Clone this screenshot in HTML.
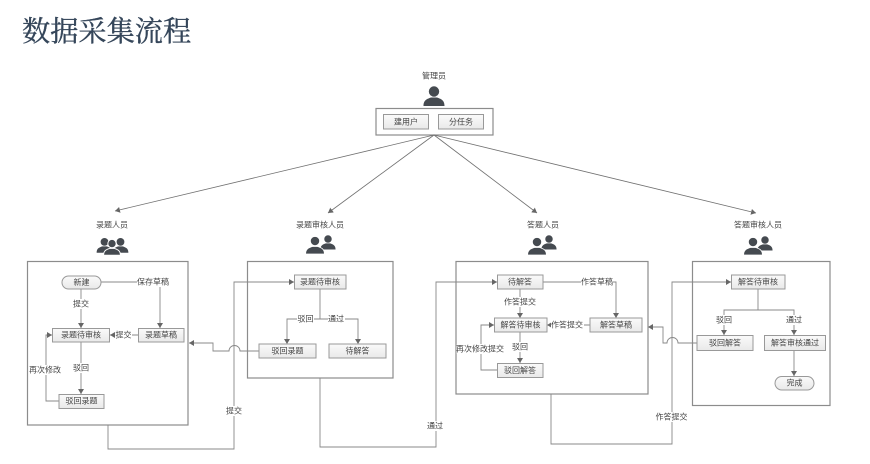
<!DOCTYPE html>
<html lang="zh">
<head>
<meta charset="utf-8">
<style>
html,body{margin:0;padding:0;background:#fff;width:870px;height:464px;overflow:hidden}
svg{display:block;position:absolute;left:0;top:0;filter:blur(.35px)}
.t{font-family:"Liberation Sans","Noto Sans CJK SC",sans-serif;font-size:8px;fill:#444;text-anchor:middle;dominant-baseline:central}
.h{font-family:"Liberation Serif","Noto Serif CJK SC",serif;font-size:28.200px;fill:#35465a;stroke:#35465a;stroke-width:.35}
.p{fill:#fff;stroke:#8c8c8c;stroke-width:1.2}
.n{fill:url(#g);stroke:#999;stroke-width:1}
.l{fill:none;stroke:#888;stroke-width:.9}
.d{fill:none;stroke:#707070;stroke-width:.8}
.a{fill:#666}
.bg{fill:#fff}
.u{fill:#454a50}
</style>
</head>
<body>
<svg width="870" height="464" viewBox="0 0 870 464" xmlns="http://www.w3.org/2000/svg">
<defs>
<linearGradient id="g" x1="0" y1="0" x2="0" y2="1"><stop offset="0" stop-color="#fafafa"/><stop offset="1" stop-color="#e9e9e9"/></linearGradient>
<marker id="m" markerWidth="6" markerHeight="6" refX="5" refY="3" orient="auto" markerUnits="userSpaceOnUse"><path d="M0 0L5 3L0 6Z" fill="#666"/></marker>
<g id="pers"><circle cx="0" cy="-5.5" r="5.2"/><path d="M-10.500 9C-10.500 3 -7 2 -3 .5L3 .5C7 2 10.500 3 10.500 9Z"/></g>
</defs>

<text class="h" x="22" y="41">数据采集流程</text>

<!-- top -->
<text class="t" x="434" y="76">管理员</text>
<use href="#pers" class="u" x="434" y="97"/>
<rect class="p" x="376" y="108.500" width="117" height="26.500"/>
<rect class="n" x="383.500" y="114.500" width="45" height="14.500"/>
<rect class="n" x="438.500" y="114.500" width="45" height="14.500"/>
<text class="t" x="406" y="122">建用户</text>
<text class="t" x="461" y="122">分任务</text>

<g class="d">
<path d="M434 135L115 211" marker-end="url(#m)"/>
<path d="M434 135L328 213" marker-end="url(#m)"/>
<path d="M434 135L537 213" marker-end="url(#m)"/>
<path d="M434 135L756 213" marker-end="url(#m)"/>
</g>

<!-- role labels and icons -->
<text class="t" x="112" y="225">录题人员</text>
<text class="t" x="320" y="225">录题审核人员</text>
<text class="t" x="543" y="225">答题人员</text>
<text class="t" x="758" y="225">答题审核人员</text>

<g class="u">
<use href="#pers" transform="translate(104.500,246) scale(.75)"/>
<use href="#pers" transform="translate(120.500,246) scale(.75)"/>
<g stroke="#fff" stroke-width="1.200"><use href="#pers" transform="translate(112,248) scale(.8)"/></g>
<use href="#pers" transform="translate(328,243) scale(.72)"/>
<g stroke="#fff" stroke-width="1"><use href="#pers" transform="translate(315,246) scale(.9)"/></g>
<use href="#pers" transform="translate(549,243) scale(.72)"/>
<g stroke="#fff" stroke-width="1"><use href="#pers" transform="translate(537,247) scale(.9)"/></g>
<use href="#pers" transform="translate(765,244) scale(.72)"/>
<g stroke="#fff" stroke-width="1"><use href="#pers" transform="translate(753,247) scale(.9)"/></g>
</g>

<!-- panels -->
<rect class="p" x="27.500" y="261.500" width="160.500" height="163.500"/>
<rect class="p" x="247.500" y="261.500" width="145.500" height="116.500"/>
<rect class="p" x="456" y="261.500" width="192" height="132.500"/>
<rect class="p" x="692.500" y="261.500" width="137.500" height="144"/>

<!-- cross-panel connectors -->
<path class="l" d="M108 425V449H234V282H294" marker-end="url(#m)"/>
<path class="l" d="M259 351H240A5 5 0 0 0 229 351H213V343H189" marker-end="url(#m)"/>
<path class="l" d="M320 378V447H436V282H497" marker-end="url(#m)"/>
<path class="l" d="M551 394V444H672V282H731" marker-end="url(#m)"/>
<path class="l" d="M697 343H678A5 5 0 0 0 667 343H663V327H648" marker-end="url(#m)"/>

<!-- panel 1 connectors -->
<path class="l" d="M81 289V328" marker-end="url(#m)"/>
<path class="l" d="M101 282H160V328" marker-end="url(#m)"/>
<path class="l" d="M138 335H110" marker-end="url(#m)"/>
<path class="l" d="M81 342V394" marker-end="url(#m)"/>
<path class="l" d="M59 401H46V335H52" marker-end="url(#m)"/>

<!-- panel 2 connectors -->
<path class="l" d="M320 289V319"/>
<path class="l" d="M320 319H287V344" marker-end="url(#m)"/>
<path class="l" d="M320 319H358V344" marker-end="url(#m)"/>

<!-- panel 3 connectors -->
<path class="l" d="M543 282H616V318" marker-end="url(#m)"/>
<path class="l" d="M520 289V318" marker-end="url(#m)"/>
<path class="l" d="M590 325H547" marker-end="url(#m)"/>
<path class="l" d="M520 332V363" marker-end="url(#m)"/>
<path class="l" d="M497 370H481V325H494" marker-end="url(#m)"/>

<!-- panel 4 connectors -->
<path class="l" d="M758 289V310"/>
<path class="l" d="M724 335V310H794V335" fill="none"/>
<path class="a" d="M721 330L727 330L724 335Z"/>
<path class="a" d="M791 330L797 330L794 335Z"/>
<path class="l" d="M794 350V376" marker-end="url(#m)"/>

<!-- nodes -->
<rect class="n" x="62" y="276" width="39" height="13" rx="6.500"/>
<rect class="n" x="52.500" y="328.500" width="57" height="13.500"/>
<rect class="n" x="138.500" y="328.500" width="45.500" height="13.500"/>
<rect class="n" x="59" y="394.500" width="45" height="14"/>
<rect class="n" x="294.500" y="275" width="51.500" height="14"/>
<rect class="n" x="259" y="344" width="57" height="14"/>
<rect class="n" x="329" y="344" width="57" height="14"/>
<rect class="n" x="497.500" y="275" width="45.500" height="14"/>
<rect class="n" x="494.500" y="318" width="52.500" height="14"/>
<rect class="n" x="590" y="318" width="52" height="14"/>
<rect class="n" x="497.500" y="363.500" width="45.500" height="14"/>
<rect class="n" x="731.500" y="275" width="53.500" height="14"/>
<rect class="n" x="697" y="335.500" width="56" height="15"/>
<rect class="n" x="764.500" y="335.500" width="61" height="15"/>
<rect class="n" x="775" y="376.500" width="39" height="13.500" rx="6.700"/>

<!-- node text -->
<text class="t" x="81.500" y="282.500">新建</text>
<text class="t" x="81" y="335">录题待审核</text>
<text class="t" x="161" y="335">录题草稿</text>
<text class="t" x="81.500" y="401">驳回录题</text>
<text class="t" x="320" y="282">录题待审核</text>
<text class="t" x="287.500" y="351">驳回录题</text>
<text class="t" x="357.500" y="351">待解答</text>
<text class="t" x="520" y="282">待解答</text>
<text class="t" x="520.500" y="325">解答待审核</text>
<text class="t" x="616" y="325">解答草稿</text>
<text class="t" x="520" y="370.500">驳回解答</text>
<text class="t" x="758" y="282">解答待审核</text>
<text class="t" x="725" y="343">驳回解答</text>
<text class="t" x="795" y="343">解答审核通过</text>
<text class="t" x="794.500" y="383">完成</text>

<!-- connector labels -->
<rect class="bg" x="72" y="299" width="18" height="10"/><text class="t" x="81" y="304">提交</text>
<rect class="bg" x="137" y="277" width="32" height="10"/><text class="t" x="153" y="282">保存草稿</text>
<rect class="bg" x="115" y="330" width="17" height="10"/><text class="t" x="123.500" y="335">提交</text>
<rect class="bg" x="72" y="363" width="18" height="10"/><text class="t" x="81" y="368">驳回</text>
<rect class="bg" x="29" y="365" width="33" height="10"/><text class="t" x="45" y="370">再次修改</text>
<rect class="bg" x="225" y="406" width="18" height="10"/><text class="t" x="234" y="411">提交</text>
<rect class="bg" x="297" y="314" width="17" height="10"/><text class="t" x="305.500" y="319">驳回</text>
<rect class="bg" x="328" y="314" width="17" height="10"/><text class="t" x="336" y="319">通过</text>
<rect class="bg" x="426" y="421" width="18" height="10"/><text class="t" x="435" y="426">通过</text>
<rect class="bg" x="581" y="277" width="32" height="10"/><text class="t" x="597" y="282">作答草稿</text>
<rect class="bg" x="504" y="297" width="32" height="10"/><text class="t" x="520" y="302">作答提交</text>
<rect class="bg" x="551" y="320" width="33" height="10"/><text class="t" x="567" y="325">作答提交</text>
<rect class="bg" x="511" y="342" width="18" height="10"/><text class="t" x="520" y="347">驳回</text>
<rect class="bg" x="456.500" y="344" width="47" height="10"/><text class="t" x="480" y="349">再次修改提交</text>
<rect class="bg" x="655" y="412" width="33" height="10"/><text class="t" x="671.500" y="417">作答提交</text>
<rect class="bg" x="715" y="315" width="18" height="10"/><text class="t" x="724" y="320">驳回</text>
<rect class="bg" x="785" y="315" width="18" height="10"/><text class="t" x="794" y="320">通过</text>
</svg>
</body>
</html>
